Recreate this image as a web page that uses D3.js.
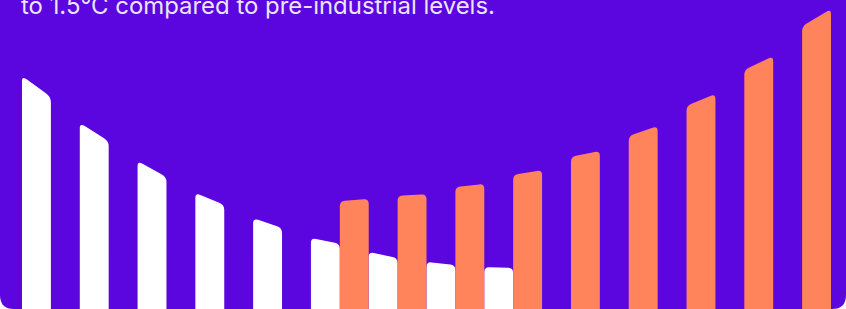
<!DOCTYPE html>
<html><head><meta charset="utf-8">
<script src="https://cdn.jsdelivr.net/npm/d3@7"></script>
<style>html,body{margin:0;padding:0;background:#fff;overflow:hidden}svg{display:block}</style>
</head><body>
<svg id="chart" width="846" height="309"></svg>
<script>
const titleText = "to 1.5°C compared to pre-industrial levels.";
// slot index of each bar (28 equal slots across the chart)
const whiteSlots = [0, 2, 4, 6, 8, 10, 12, 14, 16];
const orangeSlots = [11, 13, 15, 17, 19, 21, 23, 25, 27];
// value at the left and right edge of each bar top
const whiteStart = [77.7, 62.0, 49.3, 38.7, 30.3, 23.7, 19.0, 15.7, 14.0];
const whiteEnd   = [70.7, 56.0, 44.0, 34.7, 27.0, 21.7, 17.0, 14.7, 13.7];
const orangeStart = [36.0, 37.7, 40.7, 44.7, 50.7, 57.7, 67.7, 79.7, 94.3];
const orangeEnd   = [36.7, 38.3, 41.7, 46.3, 52.7, 61.0, 71.7, 84.3, 100.0];

const W = 846, H = 309;
const svg = d3.select("#chart");
const purple = "#5B06DE", orange = "#FF845B";

svg.append("path")
  .attr("d", (() => { const r = 14; return `M0,-40 H${W} V${H - r} Q${W},${H} ${W - r},${H} H${r} Q0,${H} 0,${H - r} Z`; })())
  .attr("fill", purple);

const x = d3.scaleBand().domain(d3.range(28)).range([22, 831]).padding(0);
const y = d3.scaleLinear().domain([0, 100]).range([H, 9]);

function barPath(slot, v0, v1) {
  const x0 = x(slot), x1 = x(slot) + x.bandwidth();
  const y0 = y(v0), y1 = y(v1), b = H + 10, r = 5;
  const s = (y1 - y0) / (x1 - x0);
  return `M${x0},${b} L${x0},${y0 + r} Q${x0},${y0} ${x0 + r},${y0 + s * r} ` +
         `L${x1 - r},${y1 - s * r} Q${x1},${y1} ${x1},${y1 + r} L${x1},${b} Z`;
}

const clip = svg.append("clipPath").attr("id", "card")
  .append("rect").attr("x", 0).attr("y", -40).attr("width", W).attr("height", H + 40).attr("rx", 14);

const g = svg.append("g").attr("clip-path", "url(#card)");
g.selectAll("path.w").data(whiteSlots).join("path").attr("class", "w")
  .attr("d", (s, i) => barPath(s, whiteStart[i], whiteEnd[i])).attr("fill", "#ffffff");
g.selectAll("path.o").data(orangeSlots).join("path").attr("class", "o")
  .attr("d", (s, i) => barPath(s, orangeStart[i], orangeEnd[i])).attr("fill", orange);

const t = svg.append("text").attr("x", 21).attr("y", 14)
  .attr("font-family", "Inter, 'Open Sans', sans-serif").attr("font-size", 20)
  .attr("fill", "#ECE4FA").text(titleText);
const len = t.node().getComputedTextLength();
t.attr("font-size", 20 * 474 / len);
</script>
</body></html>
